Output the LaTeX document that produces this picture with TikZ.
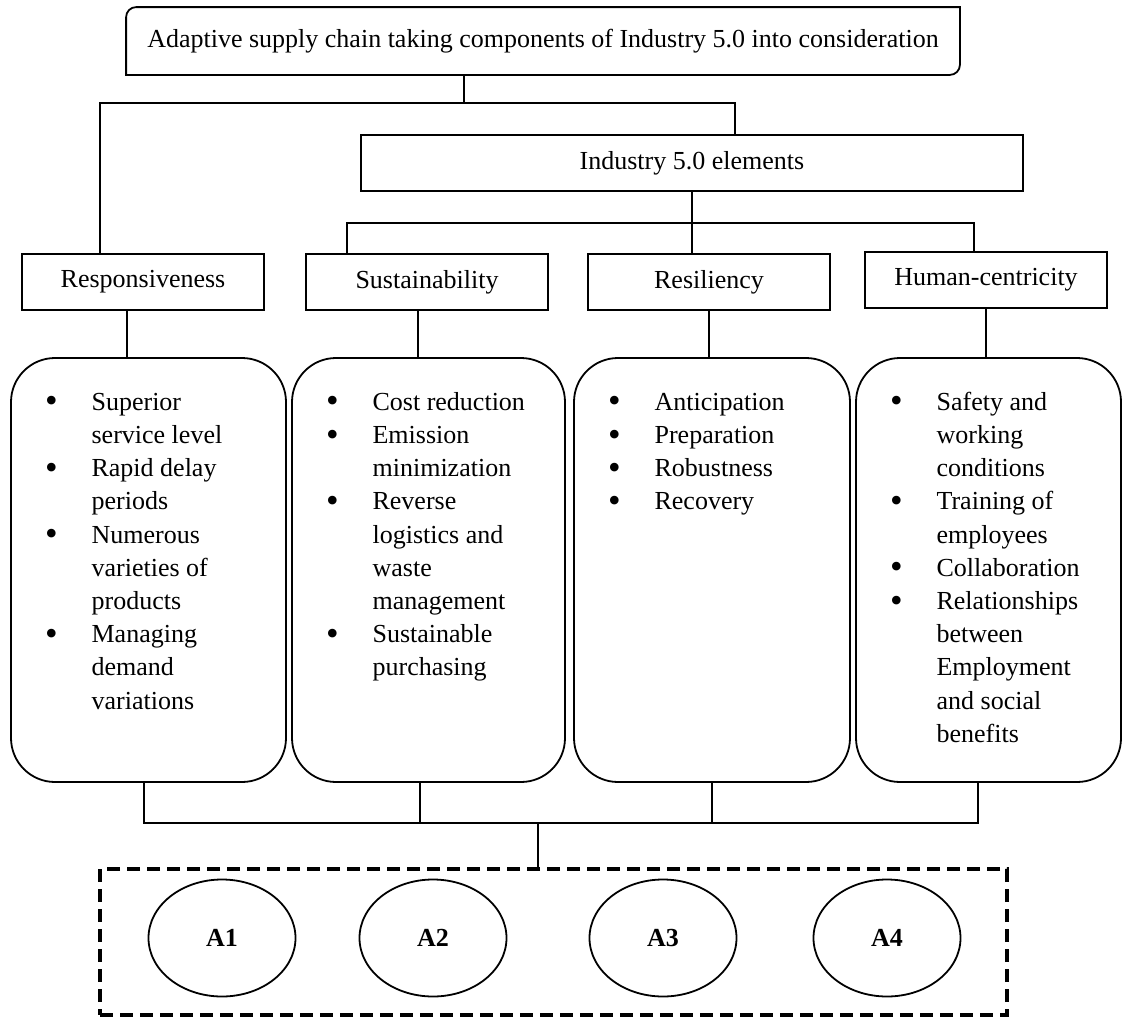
\documentclass[tikz,border=0pt]{standalone}
\usepackage{fontspec}
\setmainfont{Liberation Serif}
\usetikzlibrary{shapes.geometric}

% Aufzaehlung im abgerundeten Kasten
\newcommand{\punkt}{\raisebox{-1.3pt}{\fontsize{18}{16.6}\selectfont\textbullet}}
\newcommand{\liste}[2]{\parbox[c][212pt][t]{#1}{\vspace*{14.5pt}\hspace*{17pt}%
  \begin{tabular}[t]{@{}l@{\hspace{17pt}}l@{}}#2\end{tabular}}}

\begin{document}
\begin{tikzpicture}[x=0.5pt,y=-0.5pt,line width=0.9pt,font=\fontsize{13}{16.6}\selectfont]
  \tikzstyle{element box}=[draw,minimum width=121pt,minimum height=28pt,inner sep=0pt]
  \tikzstyle{list box}=[draw,rounded corners=22pt,inner sep=0pt]
  \tikzstyle{alternative}=[draw,ellipse,minimum width=73.5pt,minimum height=58.5pt,inner sep=0pt,font=\fontsize{13}{16.6}\selectfont\bfseries]
  \tikzstyle{group box}=[draw,line width=1.7pt,dash pattern=on 6.5pt off 3.5pt,minimum width=453.5pt,minimum height=73pt]

  \useasboundingbox (0,0) rectangle (1124,1017);

  % Oberster Kasten
  \node[minimum width=416pt,minimum height=33pt,inner sep=0pt] (top) at (543,41)
    {Adaptive supply chain taking components of Industry 5.0 into consideration};
  \draw (top.south west) -- ([yshift=-5pt]top.north west) arc (180:90:5pt)
    -- (top.north east) -- ([yshift=5pt]top.south east) arc (0:-90:5pt) -- cycle;

  % Industry 5.0
  \node[element box,minimum width=331pt] (ind) at (692,163) {Industry 5.0 elements};

  % Elemente
  \node[element box] (resp) at (143,282) {Responsiveness};
  \node[element box] (sust) at (427,282) {Sustainability};
  \node[element box] (resil) at (709,282) {Resiliency};
  \node[element box] (hum) at (986,280) {Human-centricity};

  % Verbindungen oben
  \coordinate (k1) at (464,103);
  \coordinate (k2) at (100,103);
  \coordinate (k3) at (735,103);
  \draw (top.south -| k1) -- (k1);
  \draw (resp.north -| k2) -- (k2) -- (k3) -- (ind.north -| k3);
  \coordinate (m1) at (347,223);
  \coordinate (m2) at (974,223);
  \draw (sust.north -| m1) -- (m1) -- (m2) -- (hum.north -| m2);
  \draw (ind.south) -- (ind.south |- resil.north);

  % Abgerundete Kaesten
  \node[list box] (rb1) at (148.5,570) {\liste{137.5pt}{%
    \punkt & Superior\\ & service level\\
    \punkt & Rapid delay\\ & periods\\
    \punkt & Numerous\\ & varieties of\\ & products\\
    \punkt & Managing\\ & demand\\ & variations}};
  \node[list box] (rb2) at (428.5,570) {\liste{136.5pt}{%
    \punkt & Cost reduction\\
    \punkt & Emission\\ & minimization\\
    \punkt & Reverse\\ & logistics and\\ & waste\\ & management\\
    \punkt & Sustainable\\ & purchasing}};
  \node[list box] (rb3) at (712,570) {\liste{138pt}{%
    \punkt & Anticipation\\
    \punkt & Preparation\\
    \punkt & Robustness\\
    \punkt & Recovery}};
  \node[list box] (rb4) at (988.5,570) {\liste{132.5pt}{%
    \punkt & Safety and\\ & working\\ & conditions\\
    \punkt & Training of\\ & employees\\
    \punkt & Collaboration\\
    \punkt & Relationships\\ & between\\ & Employment\\ & and social\\ & benefits}};

  \draw ([xshift=-8pt]resp.south) -- ([xshift=-8pt]resp.south |- rb1.north);
  \draw ([xshift=-4.5pt]sust.south) -- ([xshift=-4.5pt]sust.south |- rb2.north);
  \draw (resil.south) -- (resil.south |- rb3.north);
  \draw (hum.south) -- (hum.south |- rb4.north);

  % Alternativen
  \node[group box] (grp) at (553.5,942) {};
  \foreach \i/\x in {1/222,2/433,3/663,4/887}
    \node[alternative] (a\i) at (\x,938) {A\i};

  % Verbindungen unten
  \coordinate (e) at (144,823);
  \coordinate (f) at (978,823);
  \coordinate (h2) at (420,823);
  \coordinate (h3) at (712,823);
  \coordinate (g) at (538,823);
  \draw (rb1.south -| e) -- (e) -- (f) -- (rb4.south -| f);
  \draw (rb2.south -| h2) -- (h2);
  \draw (rb3.south) -- (h3);
  \draw (g) -- (g |- grp.north);

\end{tikzpicture}
\end{document}
